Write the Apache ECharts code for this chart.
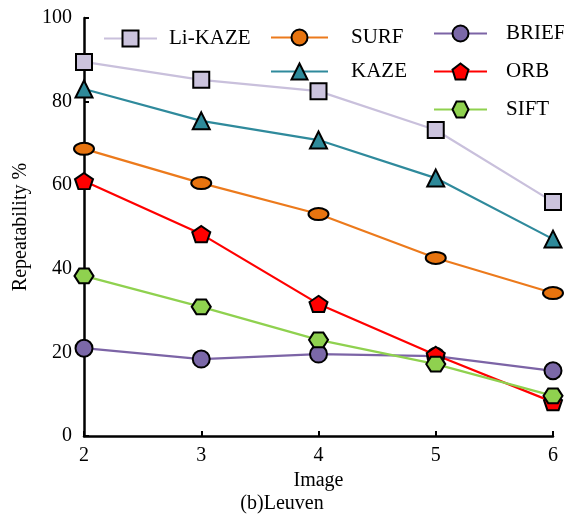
<!DOCTYPE html>
<html><head><meta charset="utf-8">
<script src="https://cdn.jsdelivr.net/npm/echarts@6/dist/echarts.min.js"></script>
<style>html,body{margin:0;padding:0;background:#fff}#c{width:564px;height:515px}</style>
</head><body><div id="c"></div>
<script>
var images = [2, 3, 4, 5, 6];
var liKaze = [89.5, 85.2, 82.5, 73.2, 56.0];
var kaze   = [83.0, 75.4, 70.8, 61.7, 47.1];
var surf   = [68.7, 60.5, 53.1, 42.6, 34.2];
var orb    = [61.0, 48.3, 31.6, 19.4, 8.1];
var sift   = [38.3, 30.9, 23.0, 17.2, 9.6];
var brief  = [21.0, 18.4, 19.6, 19.1, 15.6];
var yTicks = [0, 20, 40, 60, 80, 100];

var FONT = 'Liberation Serif';
function pairs(arr){ return arr.map(function(v,i){ return [images[i], v]; }); }
var pent = 'path://M0,-10 L9.51,-3.09 L5.88,8.09 L-5.88,8.09 L-9.51,-3.09 Z';
var hexa = 'path://M-10,0 L-5,-8.66 L5,-8.66 L10,0 L5,8.66 L-5,8.66 Z';
var ell = 'path://M-10,0 C-10,-3.3 -5.5,-6 0,-6 C5.5,-6 10,-3.3 10,0 C10,3.3 5.5,6 0,6 C-5.5,6 -10,3.3 -10,0 Z';

function ser(name, data, lineColor, fill, symbol, size, keep){
  return {
    name: name, type: 'line', data: pairs(data), symbol: symbol, symbolSize: size,
    symbolKeepAspect: !!keep,
    lineStyle: {color: lineColor, width: 2.2},
    itemStyle: {color: fill, borderColor: '#000', borderWidth: 2},
    emphasis: {disabled: true}, z: 3
  };
}
var series = [
  ser('Li-KAZE', liKaze, '#c9c0dc', '#cbc3dd', 'rect', 16),
  ser('KAZE', kaze, '#2f8a9c', '#2e8a9a', 'triangle', 17),
  ser('SURF', surf, '#ec7a1c', '#e8740f', ell, 20, true),
  ser('BRIEF', brief, '#7c64a6', '#7b68a8', 'circle', 17),
  ser('ORB', orb, '#ff0000', '#ff0000', pent, [18, 17], true),
  ser('SIFT', sift, '#8fd14f', '#8fd14f', hexa, [19, 17], true)
];

var legText = {fontFamily: FONT, fontSize: 21, color: '#000'};
var chart = echarts.init(document.getElementById('c'));
chart.setOption({
  animation: false,
  backgroundColor: '#fff',
  title: {text: '(b)Leuven', left: 'center', top: 489, textStyle: {fontFamily: FONT, fontSize: 20, fontWeight: 'normal', color: '#000'}},
  legend: [
    {data: ['Li-KAZE'], left: 103, top: 28, padding: 0, itemWidth: 53, itemHeight: 20, textStyle: Object.assign({padding: [0,0,0,7]}, legText)},
    {data: ['SURF', 'KAZE'], orient: 'vertical', left: 270, top: 27, padding: 0, itemGap: 13, itemWidth: 57, itemHeight: 20, textStyle: Object.assign({padding: [0,0,0,18]}, legText)},
    {data: ['BRIEF', 'ORB', 'SIFT'], orient: 'vertical', left: 433, top: 23, padding: 0, itemGap: 17, itemWidth: 53, itemHeight: 20, textStyle: Object.assign({padding: [0,0,0,14]}, legText)}
  ],
  grid: {left: 84, right: 11, top: 18, bottom: 79, containLabel: false},
  xAxis: {
    type: 'value', min: 2, max: 6, interval: 1,
    name: 'Image', nameLocation: 'middle', nameGap: 35,
    nameTextStyle: {fontFamily: FONT, fontSize: 20, color: '#000'},
    axisLine: {lineStyle: {color: '#000', width: 2.5}},
    axisTick: {inside: true, length: 5, lineStyle: {color: '#000', width: 2}},
    axisLabel: {fontFamily: FONT, fontSize: 20, color: '#000', margin: 10},
    splitLine: {show: false}
  },
  yAxis: {
    type: 'value', min: 0, max: 100, interval: 20,
    name: 'Repeatability %', nameLocation: 'middle', nameGap: 53,
    nameTextStyle: {fontFamily: FONT, fontSize: 20, color: '#000'},
    axisLine: {lineStyle: {color: '#000', width: 2.5}},
    axisTick: {inside: true, length: 5, lineStyle: {color: '#000', width: 2}},
    axisLabel: {fontFamily: FONT, fontSize: 20, color: '#000', margin: 12,
      formatter: function(v){ return yTicks.indexOf(v) >= 0 ? String(v) : ''; }},
    splitLine: {show: false}
  },
  series: series
});
</script></body></html>
